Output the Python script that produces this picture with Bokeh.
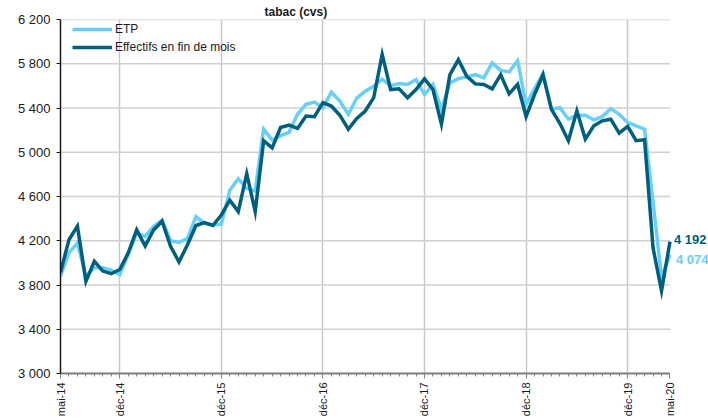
import numpy as np
from bokeh.plotting import figure
from bokeh.models import Range1d, FixedTicker, Legend, LegendItem
from bokeh.core.properties import value
from bokeh.embed import file_html
from bokeh.resources import INLINE

# Monthly series, mai-14 .. mai-20 (73 months)
etp = [3880, 4090, 4180, 3880, 3955, 3955, 3935, 3895, 4075, 4269,
       4240, 4329, 4388, 4200, 4185, 4220, 4418, 4358, 4342, 4350,
       4657, 4761, 4672, 4650, 5209, 5110, 5150, 5180, 5343, 5433,
       5453, 5403, 5543, 5463, 5343, 5490, 5552, 5597, 5660, 5600,
       5621, 5613, 5657, 5522, 5613, 5388, 5627, 5665, 5681, 5701,
       5672, 5806, 5740, 5726, 5827, 5433, 5573, 5711, 5388, 5403,
       5299, 5335, 5335, 5293, 5322, 5394, 5343, 5269, 5239, 5209,
       4550, 3866, 4074]
effectifs = [3915, 4209, 4332, 3833, 4015, 3926, 3902, 3940, 4090, 4298,
             4152, 4298, 4376, 4150, 4009, 4164, 4338, 4365, 4338, 4433,
             4567, 4463, 4806, 4463, 5104, 5040, 5224, 5245, 5215, 5327,
             5322, 5448, 5418, 5335, 5209, 5305, 5373, 5493, 5884, 5567,
             5573, 5493, 5567, 5663, 5567, 5254, 5701, 5836, 5686, 5618,
             5613, 5573, 5701, 5528, 5613, 5322, 5522, 5701, 5388, 5260,
             5104, 5373, 5119, 5239, 5284, 5299, 5173, 5233, 5104, 5113,
             4135, 3747, 4192]
months = list(range(len(etp)))

x_tick_pos = [0, 7, 19, 31, 43, 55, 67, 72]
x_tick_labels = ["mai-14", "déc-14", "déc-15", "déc-16", "déc-17", "déc-18", "déc-19", "mai-20"]
y_ticks = [3000, 3400, 3800, 4200, 4600, 5000, 5400, 5800, 6200]

series_names = ["ETP", "Effectifs en fin de mois"]
title_text = "tabac (cvs)"

LIGHT = "#66CFFA"
DARK = "#005F7D"
FONT = "Liberation Sans"


def fmt(v):
    return f"{int(v):,}".replace(",", " ")


# extra room on the right of the last month for the end labels
x_pad = 4.55

p = figure(width=708, height=419, output_backend="svg", toolbar_location=None,
           x_range=Range1d(months[0], months[-1] + x_pad), y_range=Range1d(y_ticks[0], y_ticks[-1]),
           min_border_left=60, min_border_right=0, min_border_top=19, min_border_bottom=0)
p.outline_line_color = None
p.background_fill_color = "white"
p.border_fill_color = "white"

# title in the top border
p.title.text = title_text
p.title.align = "left"
p.title.offset = 204
p.title.standoff = 2
p.title.text_font = FONT
p.title.text_font_style = "bold"
p.title.text_font_size = "12px"
p.title.text_color = "#1a1a1a"

# vertical grid at december ticks
p.xgrid.ticker = FixedTicker(ticks=x_tick_pos[1:-1])
p.xgrid.grid_line_color = "#c8c8c8"
p.xgrid.grid_line_width = 1.5
# horizontal grid only over the data span
p.ygrid.visible = False
n = len(y_ticks)
p.segment(x0=[months[0]] * n, y0=y_ticks, x1=[months[-1]] * n, y1=y_ticks,
          line_color="#d0d0d0", line_width=1.5)

# x axis
xa = p.xaxis[0]
xa.bounds = (months[0], months[-1])
xa.ticker = FixedTicker(ticks=x_tick_pos, minor_ticks=months)
xa.major_label_overrides = {k: v for k, v in zip(x_tick_pos, x_tick_labels)}
xa.major_label_orientation = np.pi / 2
xa.axis_line_color = "#808080"
xa.axis_line_width = 2
xa.major_tick_line_color = "#808080"
xa.major_tick_in = 0
xa.major_tick_out = 5
xa.minor_tick_line_color = "#808080"
xa.minor_tick_in = 0
xa.minor_tick_out = 3
xa.major_label_standoff = 4
xa.major_label_text_font = FONT
xa.major_label_text_font_size = "11px"
xa.major_label_text_color = "#1a1a1a"

# y axis
ya = p.yaxis[0]
ya.ticker = FixedTicker(ticks=y_ticks, minor_ticks=[])
ya.major_label_overrides = {t: fmt(t) for t in y_ticks}
ya.axis_line_color = "#1a1a1a"
ya.axis_line_width = 1.5
ya.major_tick_line_color = "#1a1a1a"
ya.major_tick_in = 0
ya.major_tick_out = 4
ya.major_label_standoff = 6
ya.major_label_text_font = FONT
ya.major_label_text_font_size = "13px"
ya.major_label_text_color = "#1a1a1a"

r1 = p.line(months, etp, line_color=LIGHT, line_width=3.5, line_join="miter")
r2 = p.line(months, effectifs, line_color=DARK, line_width=3.5, line_join="miter")

legend = Legend(items=[LegendItem(label=series_names[0], renderers=[r1]),
                       LegendItem(label=series_names[1], renderers=[r2])],
                location=(12, 317), margin=0, padding=0, spacing=0,
                glyph_width=40, glyph_height=18, label_height=18, label_standoff=3,
                label_text_font=FONT, label_text_font_size="12px", label_text_color="#1a1a1a",
                border_line_color=None, background_fill_alpha=0)
p.add_layout(legend)

# end-of-series value labels
p.text(x=[months[-1]], y=[effectifs[-1]], text=[fmt(effectifs[-1])], x_offset=4, y_offset=-2,
       text_baseline="middle", text_align="left", text_font=value(FONT), text_font_style="bold",
       text_font_size="13px", text_color=DARK)
p.text(x=[months[-1]], y=[etp[-1]], text=[fmt(etp[-1])], x_offset=6, y_offset=5,
       text_baseline="middle", text_align="left", text_font=value(FONT), text_font_style="bold",
       text_font_size="13px", text_color=LIGHT)

open("out.html", "w").write(file_html(p, INLINE))
